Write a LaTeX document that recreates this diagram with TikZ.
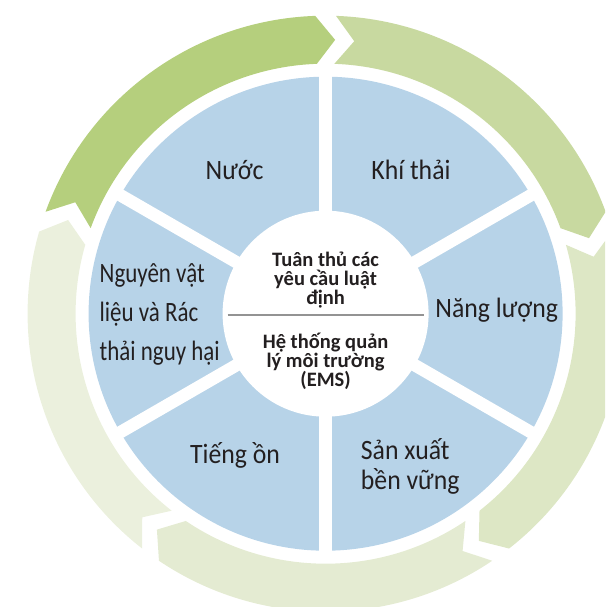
\documentclass[tikz,border=0pt]{standalone}
\usepackage{fontspec}
\setmainfont{Carlito}
\newfontfamily\hep{Carlito}[FakeStretch=0.92]
\newfontfamily\hephon{Carlito}[FakeStretch=0.82]
\definecolor{vongA}{HTML}{B5CF7D}
\definecolor{vongB}{HTML}{C8D9A0}
\definecolor{vongC}{HTML}{DDE7C5}
\definecolor{vongD}{HTML}{E4EBD2}
\definecolor{vongE}{HTML}{EBF0DD}
\definecolor{xanh}{HTML}{B7D3E8}
\definecolor{chu}{HTML}{231F20}
\tikzset{
    muc/.style={text=chu, font=\hep\fontsize{28}{30}\selectfont, inner sep=0pt},
    tam/.style={text=chu, align=center, font=\bfseries\fontsize{20.5}{19}\selectfont, inner sep=0pt}
}
\begin{document}
\begin{tikzpicture}[x=1pt,y=1pt]
    \clip (-325.6,-293.3) rectangle (279.4,313.7);

    % vòng mũi tên bên ngoài
    \foreach \t/\c in {160/vongA,88/vongB,16/vongC,-56/vongD,-128/vongE}{
        \pgfmathsetmacro{\b}{\t-68}
        \pgfmathsetmacro{\tip}{\t-72}
        \pgfmathsetmacro{\notch}{\t-4}
        \fill[\c] (\t:298) arc[start angle=\t, end angle=\b, radius=298]
            -- (\tip:274) -- (\b:250) arc[start angle=\b, end angle=\t, radius=250]
            -- (\notch:274) -- cycle;
    }

    % hình tròn xanh, các đường phân cách
    \fill[xanh] (0,0) circle[radius=237];
    \foreach \a in {30,90,...,330}
        \draw[white, line width=12.5] (0,0) -- (\a:245);
    \fill[white] (0,0) circle[radius=103];
    \draw[gray!85, line width=2.5] (-98,-1.3) -- (98,-1.3);

    % nội dung các phần
    \node[muc] (nuoc) at (-91,143.7) {Nước};
    \node[muc] (khithai) at (85.4,143.7) {Khí thải};
    \node[muc] (nangluong) at (171.1,3.7) {Năng lượng};
    \node[muc, anchor=west, align=left] (sanxuat) at (35.1,-153) {Sản xuất\\bền vững};
    \node[muc] (tiengon) at (-90.6,-141.3) {Tiếng ồn};
    \node[muc, anchor=west, align=left, font=\hephon\fontsize{28}{39}\selectfont] (nguyenlieu) at (-226.1,-0.6) {Nguyên vật\\liệu và Rác\\thải nguy hại};

    % chữ ở giữa
    \node[tam] (tuanthu) at (0,33.5) {Tuân thủ các\\yêu cầu luật\\định};
    \node[tam] (ems) at (0,-48) {Hệ thống quản\\lý môi trường\\(EMS)};
\end{tikzpicture}
\end{document}
